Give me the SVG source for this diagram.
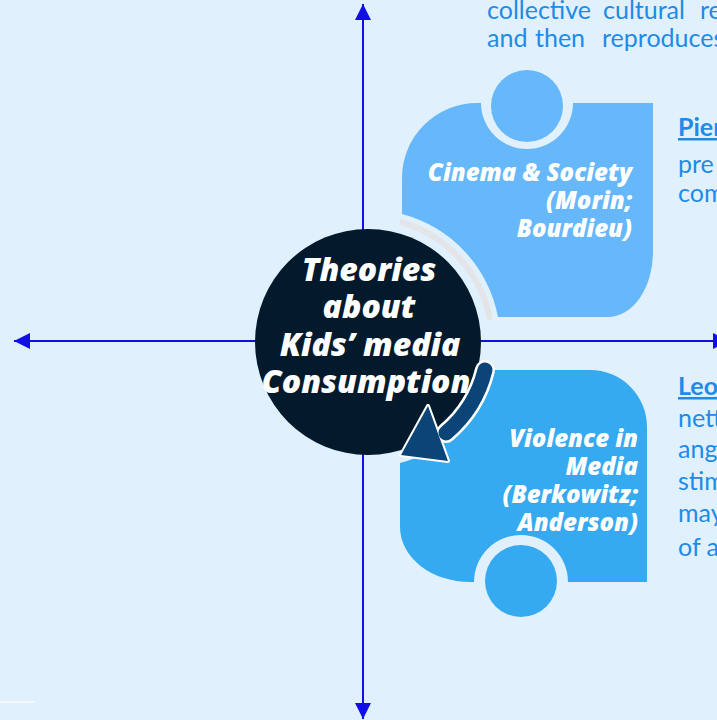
<svg xmlns="http://www.w3.org/2000/svg" width="717" height="720" viewBox="0 0 717 720">
  <defs>
    <marker id="ah" viewBox="0 0 16 16" refX="16" refY="8" markerWidth="16" markerHeight="16" markerUnits="userSpaceOnUse" orient="auto">
      <path d="M0,0 L16,8 L0,16 Z" fill="#1010E6"/>
    </marker>
    <style>
      .axis { stroke: #1010E6; stroke-width: 2; fill: none; }
      .side { font-family: Lato, "Open Sans", "Liberation Sans", sans-serif; font-size: 25px; fill: #1D8BE8; }
      .head { font-weight: bold; text-decoration: underline; }
      .lbl { font-family: "Open Sans", "Noto Sans", "Liberation Sans", sans-serif; font-weight: 800; font-style: italic; font-size: 24px; fill: #FFFFFF; text-anchor: end; }
      .ctr { font-family: "Open Sans", "Noto Sans", "Liberation Sans", sans-serif; font-weight: 800; font-style: italic; font-size: 32px; fill: #FFFFFF; text-anchor: middle; }
    </style>
  </defs>

  <rect x="0" y="0" width="717" height="720" fill="#E1F0FD"/>
  <line x1="0" y1="702" x2="35" y2="702" stroke="#FFFFFF" stroke-width="1"/>

  <g id="connectors">
    <line class="axis" x1="363" y1="341" x2="363" y2="4" marker-end="url(#ah)"/>
    <line class="axis" x1="363" y1="341" x2="363" y2="719" marker-end="url(#ah)"/>
    <line class="axis" x1="363" y1="341" x2="14" y2="341" marker-end="url(#ah)"/>
    <line class="axis" x1="363" y1="341" x2="729" y2="341" marker-end="url(#ah)"/>
  </g>

  <g id="text-top">
    <text class="side" y="19"><tspan x="487">collective</tspan><tspan x="603">cultural</tspan><tspan x="700">re</tspan></text>
    <text class="side" y="47"><tspan x="487">and</tspan><tspan x="535">then</tspan><tspan x="602">reproduces</tspan></text>
  </g>

  <g id="node-cinema">
    <path d="M402,214 V178 A75,75 0 0 1 477,103 H481 A46,46 0 0 0 573,103 H653 V252 A45,65 0 0 1 608,317 H498 A132,132 0 0 0 402,214 Z" fill="#66B8FA"/>
    <circle cx="527" cy="106" r="36" fill="#66B8FA"/>
    <path d="M400,222 A124,124 0 0 1 490,320" fill="none" stroke="#E3E5E8" stroke-width="6"/>
    <text class="lbl" x="632" y="181">Cinema &amp; Society</text>
    <text class="lbl" x="632" y="209">(Morin;</text>
    <text class="lbl" x="632" y="237">Bourdieu)</text>
  </g>

  <g id="text-right-top">
    <text class="side head" x="678" y="136">Pier</text>
    <text class="side" x="678" y="173">pre</text>
    <text class="side" x="678" y="202">com</text>
  </g>

  <g id="node-violence">
    <path d="M490,370 H590 A57,57 0 0 1 647,427 V582 H568 A47,47 0 0 0 474,582 H470 A70,55 0 0 1 400,527 V463 A126,126 0 0 0 490,370 Z" fill="#35AAF0"/>
    <circle cx="521" cy="581" r="36" fill="#35AAF0"/>
    <text class="lbl" x="638" y="447">Violence in</text>
    <text class="lbl" x="638" y="475">Media</text>
    <text class="lbl" x="638" y="503">(Berkowitz;</text>
    <text class="lbl" x="638" y="531">Anderson)</text>
  </g>

  <g id="text-right-bottom">
    <text class="side head" x="678" y="395">Leo</text>
    <text class="side" x="678" y="427">nett</text>
    <text class="side" x="678" y="458">ang</text>
    <text class="side" x="678" y="490">stim</text>
    <text class="side" x="678" y="522">may</text>
    <text class="side" x="678" y="556">of a</text>
  </g>

  <g id="node-center">
    <circle cx="368" cy="342" r="113" fill="#031A2C"/>
    <text class="ctr" x="369" y="281">Theories</text>
    <text class="ctr" x="369" y="318">about</text>
    <text class="ctr" x="370" y="356">Kids’ media</text>
    <text class="ctr" x="366" y="393">Consumption</text>
  </g>

  <g id="cycle-arrow">
    <path d="M485,370 A120,120 0 0 1 446,433" fill="none" stroke="#FFFFFF" stroke-width="20" stroke-linecap="round"/>
    <polygon points="428,406 401,455 448,461" fill="#FFFFFF" stroke="#FFFFFF" stroke-width="4" stroke-linejoin="round"/>
    <path d="M485,370 A120,120 0 0 1 446,433" fill="none" stroke="#0B4577" stroke-width="15" stroke-linecap="round"/>
    <polygon points="428,406 401,455 448,461" fill="#0B4577"/>
  </g>
</svg>
